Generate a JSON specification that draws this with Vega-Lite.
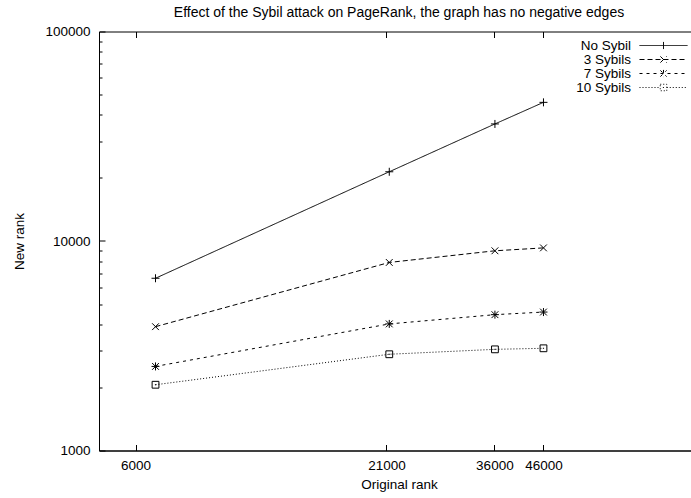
{
  "$schema": "https://vega.github.io/schema/vega-lite/v6.json",
  "autosize": "none",
  "width": 600,
  "height": 419,
  "padding": {"left": 99, "top": 31.5, "right": 0, "bottom": 47.5},
  "background": "white",
  "title": {
    "text": "Effect of the Sybil attack on PageRank, the graph has no negative edges",
    "font": "Liberation Sans",
    "fontSize": 14,
    "fontWeight": "normal",
    "color": "black",
    "offset": 5
  },
  "config": {
    "view": {"stroke": "black", "strokeWidth": 1},
    "axis": {
      "labelFont": "Liberation Sans",
      "labelFontSize": 13.5,
      "labelColor": "black",
      "titleFont": "Liberation Sans",
      "titleFontSize": 13.5,
      "titleFontWeight": "normal",
      "titleColor": "black",
      "domainColor": "black",
      "tickColor": "black",
      "grid": false
    },
    "point": {"filled": false, "stroke": "black", "strokeWidth": 1, "size": 64, "opacity": 1}
  },
  "data": {
    "values": [
      {"series": "No Sybil", "orig": 6630, "rank": 6640},
      {"series": "No Sybil", "orig": 21300, "rank": 21400},
      {"series": "No Sybil", "orig": 36100, "rank": 36200},
      {"series": "No Sybil", "orig": 46000, "rank": 45900},
      {"series": "3 Sybils", "orig": 6630, "rank": 3900},
      {"series": "3 Sybils", "orig": 21300, "rank": 7900},
      {"series": "3 Sybils", "orig": 36100, "rank": 8980},
      {"series": "3 Sybils", "orig": 46000, "rank": 9270},
      {"series": "7 Sybils", "orig": 6630, "rank": 2520},
      {"series": "7 Sybils", "orig": 21300, "rank": 4020},
      {"series": "7 Sybils", "orig": 36100, "rank": 4450},
      {"series": "7 Sybils", "orig": 46000, "rank": 4580},
      {"series": "10 Sybils", "orig": 6630, "rank": 2060},
      {"series": "10 Sybils", "orig": 21300, "rank": 2880},
      {"series": "10 Sybils", "orig": 36100, "rank": 3040},
      {"series": "10 Sybils", "orig": 46000, "rank": 3075}
    ]
  },
  "layer": [
    {
      "mark": {"type": "line", "stroke": "black", "strokeWidth": 1},
      "encoding": {
        "x": {
          "field": "orig", "type": "quantitative",
          "scale": {"type": "log", "domain": [5000, 100000], "nice": false},
          "axis": {
            "orient": "bottom", "title": "Original rank",
            "values": [6000, 21000, 36000, 46000], "format": "d",
            "tickSize": -6, "labelPadding": 14, "titlePadding": 5
          }
        },
        "y": {
          "field": "rank", "type": "quantitative",
          "scale": {"type": "log", "domain": [1000, 100000], "nice": false},
          "axis": {
            "orient": "left", "title": "New rank",
            "values": [1000, 10000, 100000], "format": "d",
            "tickSize": -6, "labelPadding": 15, "titlePadding": 18
          }
        },
        "strokeDash": {
          "field": "series", "type": "nominal",
          "scale": {
            "domain": ["No Sybil", "3 Sybils", "7 Sybils", "10 Sybils"],
            "range": [[1, 0], [5, 3], [3, 4], [1, 2]]
          },
          "legend": {
            "title": null,
            "orient": "none",
            "legendX": 557.5,
            "legendY": 7,
            "symbolSize": 169,
            "symbolStrokeWidth": 1,
            "symbolStrokeColor": "black",
            "labelAlign": "right",
            "labelOffset": -39.5,
            "labelFont": "Liberation Sans",
            "labelFontSize": 13.5,
            "labelColor": "black",
            "rowPadding": 0,
            "encode": {
              "symbols": {
                "update": {
                  "shape": {
                    "signal": "datum.value == 'No Sybil' ? 'M-3.69,0L3.69,0M0,-0.55L0,0.55' : datum.value == '3 Sybils' ? 'M-3.69,0L3.69,0M-0.48,-0.48L0.48,0.48M-0.48,0.48L0.48,-0.48' : datum.value == '7 Sybils' ? 'M-3.69,0L3.69,0M0,-0.55L0,0.55M-0.48,-0.48L0.48,0.48M-0.48,0.48L0.48,-0.48' : 'M-3.69,0L-0.5,0M0.5,0L3.69,0M-0.5,-0.5L0.5,-0.5L0.5,0.5L-0.5,0.5ZM-0.09,0L0.09,0'"
                  }
                }
              }
            }
          }
        }
      }
    },
    {
      "transform": [{"filter": "datum.series == 'No Sybil'"}],
      "mark": {"type": "point", "shape": "M-1,0L1,0M0,-1L0,1"},
      "encoding": {
        "x": {
          "field": "orig", "type": "quantitative",
          "axis": {
            "orient": "top", "title": null, "labels": false, "domain": false,
            "values": [6000, 21000, 36000, 46000], "tickSize": -6
          }
        },
        "y": {
          "field": "rank", "type": "quantitative",
          "axis": {
            "orient": "left", "title": null, "labels": false, "domain": false,
            "values": [2000, 3000, 4000, 5000, 6000, 7000, 8000, 9000, 20000, 30000, 40000, 50000, 60000, 70000, 80000, 90000],
            "tickSize": -3
          }
        }
      }
    },
    {
      "transform": [{"filter": "datum.series == '3 Sybils'"}],
      "mark": {"type": "point", "shape": "M-0.85,-0.85L0.85,0.85M-0.85,0.85L0.85,-0.85"},
      "encoding": {
        "x": {"field": "orig", "type": "quantitative", "axis": null},
        "y": {"field": "rank", "type": "quantitative", "axis": null}
      }
    },
    {
      "transform": [{"filter": "datum.series == '7 Sybils'"}],
      "mark": {"type": "point", "shape": "M-1,0L1,0M0,-1L0,1M-0.85,-0.85L0.85,0.85M-0.85,0.85L0.85,-0.85"},
      "encoding": {
        "x": {"field": "orig", "type": "quantitative", "axis": null},
        "y": {"field": "rank", "type": "quantitative", "axis": null}
      }
    },
    {
      "transform": [{"filter": "datum.series == '10 Sybils'"}],
      "mark": {"type": "point", "shape": "M-0.85,-0.85L0.85,-0.85L0.85,0.85L-0.85,0.85ZM-0.15,0L0.15,0"},
      "encoding": {
        "x": {"field": "orig", "type": "quantitative", "axis": null},
        "y": {"field": "rank", "type": "quantitative", "axis": null}
      }
    }
  ],
  "resolve": {"axis": {"x": "independent", "y": "independent"}}
}
